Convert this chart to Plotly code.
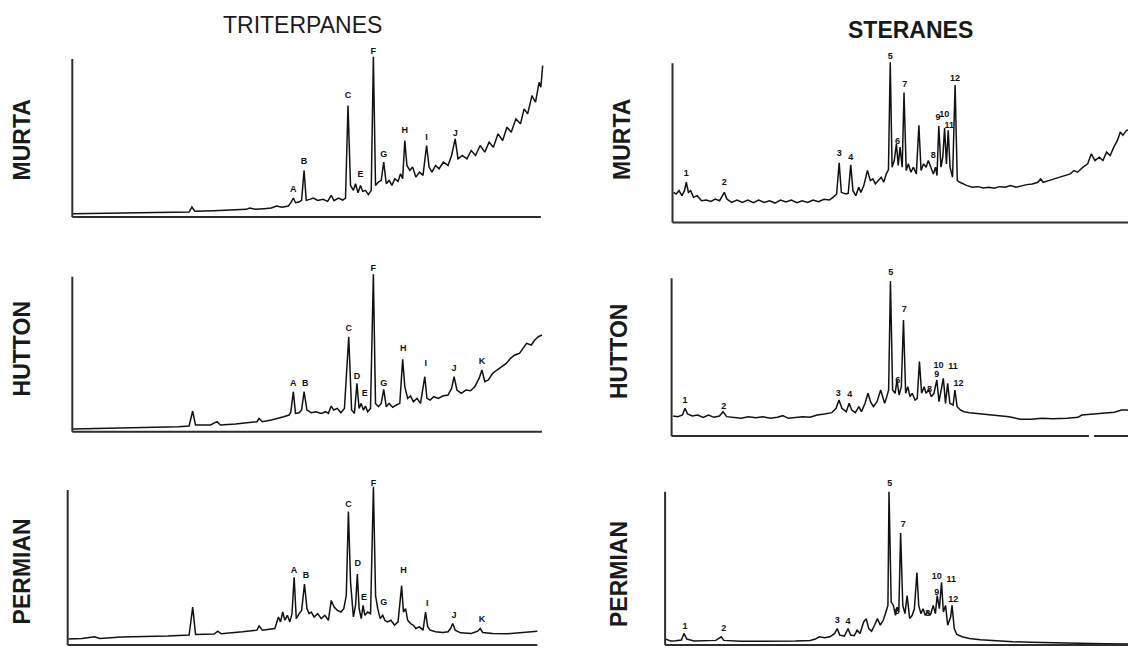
import plotly.graph_objects as go

# ------------------------------------------------------------------
# DATA  (retention in scan units, intensity in arbitrary units)
# ------------------------------------------------------------------
column_titles = ["TRITERPANES", "STERANES"]
row_names = ["MURTA", "HUTTON", "PERMIAN"]

# ---- Triterpanes, Murta ----
tri_murta_t = [2, 97, 197, 297, 327, 335, 343, 397, 447, 487, 497, 512, 537, 557, 572, 587, 605, 612, 619, 625,
               635, 642, 649, 655, 665, 675, 687, 702, 715, 725, 733, 745, 757, 765, 772, 779, 787, 793, 800, 807,
               813, 821, 829, 837, 843, 849, 857, 865, 872, 879, 887, 895, 903, 912, 919, 925, 931, 937, 945, 953,
               962, 972, 982, 992, 999, 1007, 1017, 1027, 1039, 1052, 1062, 1072, 1080, 1092, 1105, 1117, 1129,
               1142, 1155, 1167, 1179, 1192, 1205, 1217, 1229, 1242, 1255, 1265, 1275, 1287, 1297, 1307, 1312, 1317]
tri_murta_i = [10, 11, 12, 14, 15, 30, 17, 19, 21, 23, 27, 23, 25, 27, 33, 29, 33, 43, 57, 43,
               45, 50, 140, 50, 53, 57, 50, 53, 47, 65, 49, 57, 51, 57, 335, 95, 80, 100, 73, 95,
               77, 80, 67, 80, 482, 95, 105, 110, 165, 100, 110, 95, 115, 107, 130, 115, 230, 155, 140, 150,
               120, 135, 125, 215, 150, 135, 155, 145, 165, 155, 185, 235, 175, 185, 175, 200, 185,
               215, 195, 225, 210, 250, 230, 270, 255, 295, 280, 325, 310, 365, 345, 405, 390, 455]
tri_murta_lab = ["A", "B", "C", "E", "F", "G", "H", "I", "J"]
tri_murta_lab_t = [619, 649, 772, 807, 843, 872, 931, 992, 1072]
tri_murta_lab_i = [83, 165, 365, 127, 496, 187, 260, 238, 250]

# ---- Triterpanes, Hutton ----
tri_hutton_t = [2, 97, 197, 297, 327, 337, 345, 387, 405, 415, 457, 497, 517, 523, 532, 557, 577, 592, 607, 612,
                619, 625, 635, 642, 649, 657, 669, 682, 697, 709, 717, 725, 732, 742, 752, 762, 774, 782, 790, 797,
                803, 809, 815, 821, 827, 835, 843, 849, 857, 865, 872, 879, 887, 897, 907, 917, 925, 931, 939, 947,
                955, 965, 975, 987, 993, 1002, 1012, 1025, 1037, 1052, 1062, 1069, 1077, 1089, 1102, 1115, 1127,
                1139, 1147, 1155, 1165, 1177, 1189, 1202, 1215, 1227, 1239, 1252, 1262, 1272, 1285, 1295, 1305, 1315]
tri_hutton_i = [8, 10, 12, 15, 17, 62, 20, 20, 30, 20, 23, 27, 30, 40, 30, 35, 40, 45, 50, 60,
                120, 55, 57, 65, 120, 65, 57, 60, 55, 60, 55, 77, 65, 70, 57, 70, 285, 65, 55, 145,
                70, 85, 65, 77, 60, 70, 472, 85, 75, 85, 127, 75, 85, 73, 80, 85, 217, 135, 100, 107,
                90, 100, 85, 165, 100, 95, 105, 100, 107, 110, 130, 165, 125, 115, 125, 123, 135,
                160, 185, 150, 155, 175, 185, 195, 205, 220, 230, 235, 250, 265, 260, 275, 285, 290]
tri_hutton_lab = ["A", "B", "C", "D", "E", "F", "G", "H", "I", "J", "K"]
tri_hutton_lab_t = [619, 652, 774, 797, 819, 843, 872, 927, 990, 1069, 1147]
tri_hutton_lab_i = [145, 145, 310, 165, 113, 488, 143, 250, 205, 188, 210]

# ---- Triterpanes, Permian ----
tri_permian_t = [2, 40, 75, 90, 150, 210, 280, 340, 350, 358, 410, 420, 430, 490, 530, 536, 545, 580, 590, 596,
                 602, 608, 615, 622, 628, 634, 640, 648, 655, 663, 670, 676, 682, 690, 700, 710, 720, 730, 738, 746,
                 755, 765, 773, 780, 786, 792, 800, 806, 811, 816, 822, 827, 832, 840, 848, 856, 862, 868, 875, 882,
                 888, 895, 905, 915, 925, 935, 940, 946, 952, 960, 968, 975, 985, 995, 1002, 1008, 1015, 1030, 1050,
                 1065, 1072, 1078, 1085, 1100, 1130, 1148, 1155, 1162, 1190, 1230, 1270, 1315]
tri_permian_i = [18, 20, 25, 20, 24, 25, 27, 30, 115, 32, 33, 42, 34, 40, 45, 58, 45, 50, 85, 70,
                 100, 75, 90, 70, 95, 205, 80, 95, 105, 185, 110, 95, 100, 85, 95, 80, 90, 75, 135, 115,
                 105, 100, 110, 150, 405, 190, 85, 120, 215, 110, 80, 120, 90, 100, 95, 480, 150, 110, 80, 90,
                 75, 70, 75, 60, 70, 180, 100, 110, 75, 65, 60, 50, 55, 45, 100, 55, 45, 40, 38,
                 40, 50, 65, 45, 37, 35, 42, 50, 38, 35, 34, 37, 42]
tri_permian_lab = ["A", "B", "C", "D", "E", "F", "G", "H", "I", "J", "K"]
tri_permian_lab_t = [634, 667, 786, 812, 830, 856, 885, 940, 1007, 1082, 1160]
tri_permian_lab_i = [225, 210, 425, 245, 143, 488, 127, 225, 125, 90, 78]

# ---- Steranes, Murta ----
ste_murta_t = [3, 10, 18, 26, 33, 38, 44, 50, 58, 68, 80, 93, 106, 118, 130, 143, 150, 163, 178, 193,
               208, 223, 238, 253, 268, 283, 298, 313, 328, 343, 358, 373, 388, 403, 418, 433, 443, 453, 460, 466,
               478, 485, 492, 498, 506, 514, 520, 528, 538, 546, 553, 560, 568, 576, 583, 590, 596, 601, 606, 612,
               618, 623, 628, 634, 639, 645, 651, 658, 665, 673, 680, 686, 693, 700, 706, 713, 720, 726, 730, 735,
               741, 746, 751, 756, 761, 766, 773, 780, 786, 793, 803, 813, 828, 843, 858, 873, 888, 903, 918, 933,
               948, 963, 978, 993, 1008, 1016, 1023, 1038, 1053, 1068, 1083, 1098, 1108, 1118, 1133, 1146, 1156,
               1166, 1178, 1188, 1198, 1208, 1218, 1228, 1236, 1243, 1253, 1270]
ste_murta_i = [90, 85, 95, 80, 95, 120, 90, 95, 75, 80, 65, 67, 63, 70, 65, 90, 70, 60, 67, 60,
               67, 59, 67, 60, 65, 58, 67, 61, 67, 59, 65, 60, 67, 62, 69, 67, 75, 85, 178, 90,
               85, 87, 172, 95, 80, 105, 90, 110, 155, 125, 130, 115, 125, 135, 120, 145, 157, 478, 165, 185,
               235, 170, 225, 165, 388, 155, 175, 150, 165, 145, 290, 155, 175, 165, 185, 165, 145, 165, 140, 288,
               165, 195, 282, 175, 275, 165, 135, 410, 125, 120, 115, 110, 105, 107, 103, 105, 102, 107, 105, 110,
               105, 110, 113, 115, 120, 130, 120, 125, 130, 135, 140, 145, 155, 150, 165, 175, 205,
               185, 195, 185, 210, 200, 225, 245, 270, 260, 275, 280]
ste_murta_lab = ["1", "2", "3", "4", "5", "6", "7", "8", "9", "10", "11", "12"]
ste_murta_lab_t = [38, 143, 460, 492, 601, 621, 641, 720, 733, 750, 764, 780]
ste_murta_lab_i = [145, 118, 205, 192, 496, 240, 410, 200, 312, 322, 290, 430]

# ---- Steranes, Hutton ----
ste_hutton_t = [4, 17, 30, 37, 44, 57, 72, 87, 102, 117, 132, 142, 152, 172, 192, 212, 232, 252, 272, 292,
                307, 322, 342, 362, 382, 402, 422, 442, 454, 462, 470, 482, 490, 497, 507, 517, 524, 534, 542, 549,
                557, 567, 577, 582, 588, 594, 599, 604, 610, 617, 622, 628, 634, 640, 646, 652, 658, 664, 672, 678,
                684, 690, 697, 702, 710, 717, 724, 732, 738, 744, 750, 756, 762, 768, 777, 782, 788, 797, 807, 822,
                842, 872, 902, 932, 962, 992, 1022, 1052, 1092, 1122, 1132, 1162, 1192, 1222, 1242, 1257, 1272]
ste_hutton_i = [60, 58, 63, 83, 66, 60, 63, 56, 63, 56, 60, 73, 58, 56, 53, 58, 55, 58, 53, 56,
                61, 53, 55, 58, 56, 63, 66, 70, 83, 108, 83, 73, 98, 78, 70, 88, 73, 98, 128, 103,
                88, 103, 138, 118, 98, 118, 138, 465, 138, 128, 168, 123, 148, 348, 128, 148, 118, 128, 108, 113,
                223, 128, 148, 128, 138, 118, 128, 168, 103, 138, 173, 98, 158, 98, 93, 138, 88, 78, 73, 70,
                68, 66, 63, 58, 50, 50, 53, 52, 53, 56, 63, 66, 68, 71, 78, 78, 75]
ste_hutton_lab = ["1", "2", "3", "4", "5", "6", "7", "8", "9", "10", "11", "12"]
ste_hutton_lab_t = [37, 144, 460, 492, 605, 624, 642, 712, 732, 737, 777, 792]
ste_hutton_lab_i = [105, 88, 128, 123, 490, 166, 378, 140, 183, 210, 208, 156]

# ---- Steranes, Permian ----
ste_permian_t = [2, 15, 30, 45, 52, 60, 80, 110, 140, 155, 162, 210, 260, 310, 360, 400, 415, 425, 440, 455,
                 468, 475, 482, 495, 505, 512, 522, 530, 538, 548, 555, 562, 570, 578, 586, 594, 602, 608, 615, 618,
                 624, 630, 636, 640, 645, 650, 656, 662, 668, 675, 682, 688, 695, 700, 706, 712, 718, 725, 732, 740,
                 746, 751, 757, 763, 768, 774, 780, 788, 792, 798, 805, 820, 840, 870, 910, 960, 1010, 1070, 1140,
                 1210, 1290]
ste_permian_i = [18, 12, 13, 15, 35, 18, 12, 12, 14, 25, 14, 11, 11, 11, 12, 14, 18, 25, 22, 25,
                 35, 50, 30, 27, 50, 30, 28, 45, 35, 70, 80, 50, 42, 60, 80, 60, 75, 95, 120, 465,
                 130, 120, 90, 115, 100, 340, 120, 95, 150, 80, 90, 110, 220, 120, 95, 110, 90, 100, 90, 120,
                 95, 150, 110, 190, 100, 120, 60, 85, 120, 50, 32, 25, 20, 16, 13, 10, 8, 6, 5,
                 4, 3]
ste_permian_lab = ["1", "2", "3", "4", "5", "6", "7", "8", "9", "10", "11", "12"]
ste_permian_lab_t = [55, 162, 475, 505, 620, 640, 657, 725, 750, 750, 790, 795]
ste_permian_lab_i = [55, 50, 75, 70, 490, 102, 365, 95, 158, 208, 197, 138]

# ------------------------------------------------------------------
# LAYOUT GEOMETRY (page pixels)
# ------------------------------------------------------------------
W, H = 1128, 648
panels = [
    # data,  y-axis x px, px per unit, x-axis y px, axis-top y px, t_end, i_top, runs to right edge, axis gap
    (tri_murta_t, tri_murta_i, tri_murta_lab, tri_murta_lab_t, tri_murta_lab_i,       72.3, 1 / 2.8, 217.0, 59.0, 1312, 475, False, None),
    (ste_murta_t, ste_murta_i, ste_murta_lab, ste_murta_lab_t, ste_murta_lab_i,       672.5, 1 / 2.76, 222.5, 63.3, None, 475, True, None),
    (tri_hutton_t, tri_hutton_i, tri_hutton_lab, tri_hutton_lab_t, tri_hutton_lab_i,  72.3, 1 / 2.8, 431.7, 276.7, 1315, 465, False, None),
    (ste_hutton_t, ste_hutton_i, ste_hutton_lab, ste_hutton_lab_t, ste_hutton_lab_i,  671.6, 1 / 2.76, 436.0, 278.3, None, 473, True, (1152, 1166)),
    (tri_permian_t, tri_permian_i, tri_permian_lab, tri_permian_lab_t, tri_permian_lab_i, 67.7, 1 / 2.8, 645.0, 490.0, 1315, 470, False, None),
    (ste_permian_t, ste_permian_i, ste_permian_lab, ste_permian_lab_t, ste_permian_lab_i, 665.1, 1 / 2.76, 645.0, 491.7, None, 465, True, None),
]

fig = go.Figure()
shapes = []
layout_axes = {}
AX_COL = "#2e2e2e"
PAD = 3.0    # px below/left of axis
TOPX = 12.0  # px of headroom above axis top
FONT = "Liberation Sans, Arial, sans-serif"

for k, (t, inten, lab, lab_t, lab_i, x0, ppx, ybot, ytop, t_end, i_top, right_edge, gap) in enumerate(panels):
    n = k + 1
    xa = "x" if n == 1 else f"x{n}"
    ya = "y" if n == 1 else f"y{n}"
    ppy = (ybot - ytop) / i_top
    t_lo = -PAD / ppx
    if right_edge:
        t_hi = (W - x0) / ppx
        t_end = t_hi
        dx1 = 1.0
    else:
        t_hi = t_end + 12
        dx1 = (x0 + t_hi * ppx) / W
    dx0 = (x0 + t_lo * ppx) / W
    i_lo = -PAD / ppy
    i_hi = i_top + TOPX / ppy
    dy0 = max(0.0, 1 - (ybot + PAD) / H)
    dy1 = 1 - (ytop - TOPX) / H

    axis_common = dict(showgrid=False, zeroline=False, showticklabels=False, ticks="",
                       showline=False, fixedrange=True)
    layout_axes["xaxis" if n == 1 else f"xaxis{n}"] = dict(domain=[dx0, dx1], range=[t_lo, t_hi],
                                                           anchor=ya, **axis_common)
    layout_axes["yaxis" if n == 1 else f"yaxis{n}"] = dict(domain=[dy0, dy1], range=[i_lo, i_hi],
                                                           anchor=xa, **axis_common)

    # L-shaped axis frame
    shapes.append(dict(type="line", xref=xa, yref=ya, x0=0, x1=0, y0=0, y1=i_top,
                       line=dict(color=AX_COL, width=2)))
    segs = [(0, t_end)] if gap is None else [(0, gap[0]), (gap[1], t_end)]
    for s0, s1 in segs:
        shapes.append(dict(type="line", xref=xa, yref=ya, x0=s0, x1=s1, y0=0, y1=0,
                           line=dict(color=AX_COL, width=2)))

    fig.add_trace(go.Scatter(x=t, y=inten, mode="lines", xaxis=xa, yaxis=ya,
                             line=dict(color="#111111", width=1.5), hoverinfo="skip",
                             showlegend=False))
    fig.add_trace(go.Scatter(x=lab_t, y=lab_i, mode="text", xaxis=xa, yaxis=ya,
                             text=[f"<b>{s}</b>" for s in lab], textposition="middle center",
                             textfont=dict(family=FONT, size=9, color="#111111"),
                             cliponaxis=False, hoverinfo="skip", showlegend=False))

annotations = []
# column titles
annotations.append(dict(text=column_titles[0], x=302 / W, y=1 - 25 / H, xref="paper", yref="paper",
                        showarrow=False, xanchor="center", yanchor="middle",
                        font=dict(family=FONT, size=23, color="#1a1a1a")))
annotations.append(dict(text=f"<b>{column_titles[1]}</b>", x=910 / W, y=1 - 29.5 / H, xref="paper", yref="paper",
                        showarrow=False, xanchor="center", yanchor="middle",
                        font=dict(family=FONT, size=23, color="#1a1a1a")))
# row labels
row_pos = [((22.4, 140), (622, 140)), ((22.4, 349), (619, 352)), ((22.4, 571), (619, 574))]
for name, (lp, rp) in zip(row_names, row_pos):
    for (px, py) in (lp, rp):
        annotations.append(dict(text=f"<b>{name}</b>", x=px / W, y=1 - py / H, xref="paper", yref="paper",
                                showarrow=False, textangle=-90, xanchor="center", yanchor="middle",
                                font=dict(family=FONT, size=23, color="#1a1a1a")))

fig.update_layout(width=W, height=H, margin=dict(l=0, r=0, t=0, b=0),
                  paper_bgcolor="white", plot_bgcolor="rgba(0,0,0,0)",
                  shapes=shapes, annotations=annotations, showlegend=False, **layout_axes)

fig.write_html("out.html", config={"displayModeBar": False})
